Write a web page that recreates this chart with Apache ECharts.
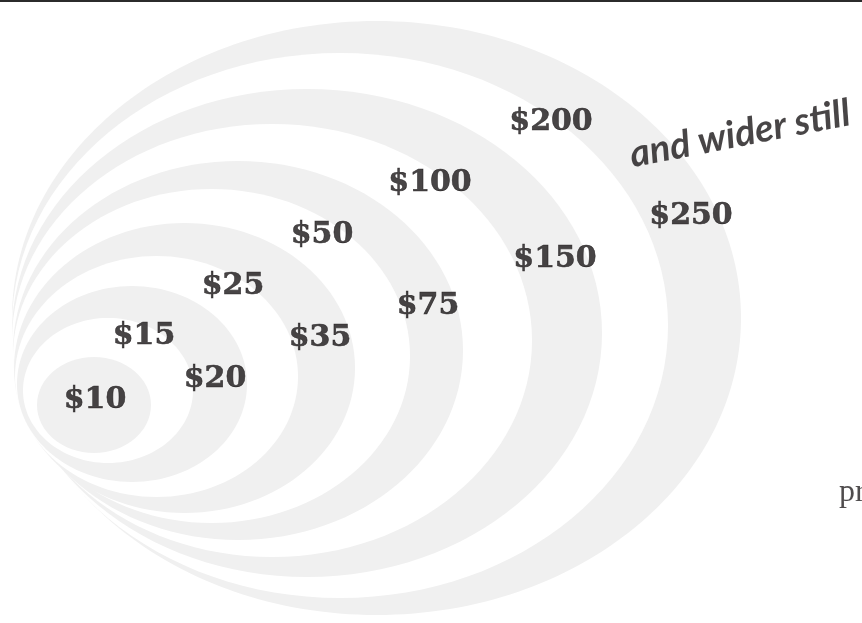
<!DOCTYPE html>
<html><head><meta charset="utf-8">
<script src="https://cdn.jsdelivr.net/npm/echarts@6/dist/echarts.min.js"></script>
<style>html,body{margin:0;padding:0;background:#fff;}#c{width:862px;height:623px;}</style>
</head><body><div id="c"></div>
<script>
// Rings from the widest ($250) to the narrowest ($10)
const priceLabels = ['$250','$200','$150','$100','$75','$50','$35','$25','$20','$15','$10'];
const ringLeft   = [12, 12, 12, 12, 13, 13, 14, 15, 17, 23, 37];
const ringRight  = [741, 668, 602, 532, 463, 410, 355, 298, 247, 193, 151];
const ringTop    = [21, 53, 89, 124, 161, 189, 223, 256, 286, 318, 357];
const ringBottom = [615, 598, 577, 557, 540, 523, 513, 497, 482, 463, 453];
const labelX     = [691, 551, 555, 430, 428, 322, 320, 233, 215, 144, 95];
const labelY     = [216, 122, 259, 183, 306, 235, 338, 286, 379, 336, 400];
const noteText   = ['and wider still'];
const noteX      = [740];
const noteY      = [134];
const sideText   = ['pr'];
const sideX      = [839];
const sideY      = [493];

const chart = echarts.init(document.getElementById('c'), null, {renderer: 'canvas'});
const ringData = priceLabels.map((p, i) => [ringLeft[i], ringRight[i], ringTop[i], ringBottom[i], i]);
const hidden = {color: 'rgba(0,0,0,0)'};

chart.setOption({
  animation: false,
  backgroundColor: '#ffffff',
  grid: {left: 0, right: 0, top: 0, bottom: 0},
  xAxis: {type: 'value', min: 0, max: 862, show: false},
  yAxis: {type: 'value', min: 0, max: 623, inverse: true, show: false},
  graphic: [{type: 'rect', left: 0, top: 0, shape: {width: 862, height: 2}, style: {fill: '#2b2b2b'}, z: 100}],
  series: [
    {
      type: 'custom', coordinateSystem: 'cartesian2d', silent: true, z: 1,
      encode: {x: [0, 1], y: [2, 3]},
      data: ringData,
      renderItem: function (params, api) {
        const p1 = api.coord([api.value(0), api.value(2)]);
        const p2 = api.coord([api.value(1), api.value(3)]);
        const idx = api.value(4);
        return {
          type: 'ellipse',
          shape: {
            cx: (p1[0] + p2[0]) / 2, cy: (p1[1] + p2[1]) / 2,
            rx: Math.abs(p2[0] - p1[0]) / 2, ry: Math.abs(p2[1] - p1[1]) / 2
          },
          style: {fill: idx % 2 === 0 ? '#f0f0f0' : '#ffffff'}
        };
      }
    },
    {
      type: 'scatter', symbolSize: 1, z: 5, silent: true, itemStyle: hidden,
      data: priceLabels.map((p, i) => ({name: p, value: [labelX[i], labelY[i]]})),
      label: {show: true, position: 'inside', formatter: '{b}', fontFamily: 'DejaVu Serif',
        fontWeight: 'bold', fontSize: 30, color: '#1a1718',
        textBorderColor: '#1a1718', textBorderWidth: 0.6}
    },
    {
      type: 'scatter', symbolSize: 1, z: 5, silent: true, itemStyle: hidden,
      data: noteText.map((t, i) => ({name: t, value: [noteX[i], noteY[i]]})),
      label: {show: true, position: 'inside', formatter: '{b}', rotate: 11, fontFamily: 'Lato',
        fontStyle: 'italic', fontWeight: 'bold', fontSize: 38, color: '#1a1718'}
    },
    {
      type: 'scatter', symbolSize: 1, z: 5, silent: true, itemStyle: hidden,
      data: sideText.map((t, i) => ({name: t, value: [sideX[i], sideY[i]]})),
      label: {show: true, position: 'inside', align: 'left', formatter: '{b}', fontFamily: 'Liberation Serif',
        fontSize: 32, color: '#231f20', textBorderWidth: 0}
    }
  ]
});
</script></body></html>
